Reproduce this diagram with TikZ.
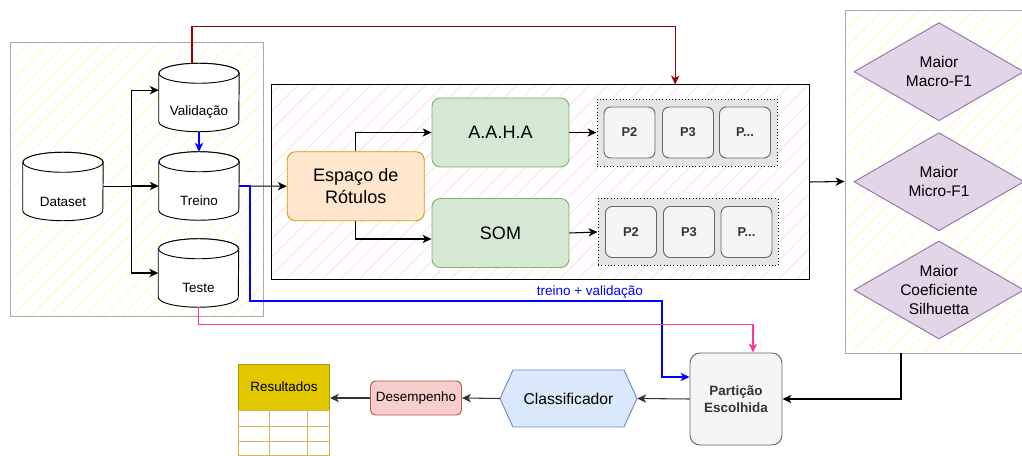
\documentclass[tikz,border=0pt]{standalone}
\usepackage{fontspec}
\setmainfont{Liberation Sans}
\usetikzlibrary{arrows.meta, positioning, shapes.geometric, calc, patterns.meta}

\definecolor{hatchyel}{RGB}{255,250,212}
\definecolor{hatchpink}{RGB}{255,230,237}
\definecolor{grpgray}{RGB}{170,170,170}
\definecolor{espfill}{HTML}{FFE6CC}
\definecolor{espline}{HTML}{D79B00}
\definecolor{algfill}{HTML}{D5E8D4}
\definecolor{algline}{HTML}{82B366}
\definecolor{pfill}{HTML}{F5F5F5}
\definecolor{pline}{HTML}{666666}
\definecolor{ptext}{HTML}{333333}
\definecolor{dmdfill}{HTML}{E1D5E7}
\definecolor{dmdline}{HTML}{9673A6}
\definecolor{clsfill}{HTML}{DAE8FC}
\definecolor{clsline}{HTML}{6C8EBF}
\definecolor{desfill}{HTML}{F8CECC}
\definecolor{desline}{HTML}{B85450}
\definecolor{resfill}{HTML}{E3C800}
\definecolor{resline}{HTML}{B09500}
\definecolor{tabline}{HTML}{D6B656}
\definecolor{valred}{HTML}{990000}
\definecolor{testpink}{HTML}{FF3399}
\definecolor{trblue}{HTML}{0000FF}

% cylinder: name, x, y, text
\newcommand{\dbnode}[4]{%
  \node[dbcyl] (#1) at (#2,#3) {};
  \draw[dbline] ([yshift=-0.3cm]#1.north west) -- ([yshift=0.3cm]#1.south west)
    arc[start angle=180, end angle=360, x radius=1.2cm, y radius=0.3cm]
    -- ([yshift=-0.3cm]#1.north east)
    arc[start angle=0, end angle=180, x radius=1.2cm, y radius=0.3cm] -- cycle;
  \draw[dbline] ([yshift=-0.3cm]#1.north) ellipse[x radius=1.2cm, y radius=0.3cm];
  \node (#1txt) at ([yshift=-0.45cm]#1.center) {#4};
}

\begin{document}
\begin{tikzpicture}[
    x=0.03cm, y=-0.03cm,
    font=\fontsize{11.5}{13.5}\selectfont,
    grpbox/.style={rectangle, draw=grpgray, line width=0.8pt,
      pattern={Lines[angle=45, distance=11pt, line width=1.1pt]}, pattern color=hatchyel},
    midbox/.style={rectangle, draw=black, line width=0.85pt,
      pattern={Lines[angle=45, distance=11pt, line width=1.1pt]}, pattern color=hatchpink},
    dbcyl/.style={rectangle, minimum width=2.4cm, minimum height=2.04cm, inner sep=0pt},
    dbline/.style={draw=black, fill=white, line width=0.8pt},
    box/.style={rectangle, rounded corners=0.25cm, line width=0.8pt, align=center,
      minimum width=4.11cm, minimum height=2.07cm, inner sep=2pt},
    espbox/.style={box, draw=espline, fill=espfill, font=\fontsize{15.4}{18.5}\selectfont},
    algbox/.style={box, draw=algline, fill=algfill, font=\fontsize{15.4}{18.5}\selectfont},
    pgroup/.style={rectangle, draw=black, dotted, line width=0.8pt, fill=gray!20,
      minimum width=5.4cm, minimum height=2.01cm},
    pbox/.style={rectangle, rounded corners=0.2cm, draw=pline, fill=pfill, text=ptext,
      line width=0.8pt, minimum size=1.53cm, font=\fontsize{11}{13}\selectfont\bfseries},
    dmd/.style={diamond, aspect=1.73, draw=dmdline, fill=dmdfill, line width=0.8pt,
      minimum width=5.1cm, minimum height=2.94cm, inner sep=0pt, align=center,
      font=\fontsize{13.2}{16.2}\selectfont},
    partbox/.style={rectangle, rounded corners=0.3cm, draw=pline, fill=pfill, text=ptext,
      line width=0.8pt, minimum size=2.76cm, align=center,
      font=\fontsize{11.5}{15}\selectfont\bfseries},
    clsbox/.style={rectangle, minimum width=4.11cm, minimum height=1.71cm,
      font=\fontsize{13.4}{16}\selectfont},
    desbox/.style={rectangle, rounded corners=0.15cm, draw=desline, fill=desfill,
      line width=0.8pt, minimum width=2.73cm, minimum height=1.02cm, inner sep=1pt},
    resbox/.style={rectangle, draw=resline, fill=resfill, line width=0.8pt,
      minimum width=2.73cm, minimum height=1.38cm},
    arr/.style={-{Stealth[length=2.7mm, width=2.5mm, inset=0.8mm]}, line width=0.9pt},
  ]
  \useasboundingbox (0,0) rectangle (1022,456);
  \clip (0,0) rectangle (1022,456);
  \fill[white] (0,0) rectangle (1022,456);

  % groups
  \node[grpbox, minimum width=7.59cm, minimum height=8.22cm] (grpL) at (136.5,179) {};
  \node[midbox, minimum width=16.11cm, minimum height=5.82cm] (grpM) at (540.5,182) {};
  \node[grpbox, minimum width=5.55cm, minimum height=10.29cm] (grpR) at (937.5,181.5) {};

  % data split
  \dbnode{ds}{63}{186.5}{Dataset}
  \dbnode{val}{199}{97.5}{Validação}
  \dbnode{tr}{199}{186}{Treino}
  \dbnode{te}{198.5}{273}{Teste}

  % label space and clustering
  \node[espbox] (esp)  at (355.75,186.25) {Espaço de\\Rótulos};
  \node[algbox] (aaha) at (500.5,132.5)   {A.A.H.A};
  \node[algbox] (som)  at (500.5,233)     {SOM};

  \node[pgroup] (ptop) at (687,132.5) {};
  \node[pbox]   (ptop2) at (629.5,132.5) {P2};
  \node[pbox]   (ptop3) at (688,132.5)   {P3};
  \node[pbox]   (ptopn) at (745,132.5)   {P...};

  \node[pgroup] (pbot) at (688,232) {};
  \node[pbox]   (pbot2) at (631,232)   {P2};
  \node[pbox]   (pbot3) at (689,232)   {P3};
  \node[pbox]   (pbotn) at (746.5,232) {P...};

  % criteria
  \node[dmd] (macro) at (939,71.7)  {Maior\\Macro-F1};
  \node[dmd] (micro) at (939,181.7) {Maior\\Micro-F1};
  \node[dmd] (silh)  at (939,290)   {Maior\\Coeficiente\\Silhuetta};

  % bottom row
  \node[partbox] (part) at (736,399) {Partição\\Escolhida};
  \draw[draw=clsline, fill=clsfill, line width=0.8pt]
    (500,398.5) -- (513,370) -- (624,370) -- (637,398.5) -- (624,427) -- (513,427) -- cycle;
  \node[clsbox] (cls) at (568.5,398.5) {Classificador};
  \node[desbox] (des) at (416,398) {Desempenho};
  \node[resbox] (res) at (284,387) {Resultados};
  \draw[draw=tabline, line width=0.8pt] (res.south west) rectangle (329.5,490);
  \draw[draw=tabline, line width=0.8pt] (238.5,426) -- (329.5,426)
    (238.5,441) -- (329.5,441) (238.5,455) -- (329.5,455)
    (269,410) -- (269,490) (307,410) -- (307,490);

  % connectors
  \draw[arr] (ds.east) -- ++(28,0) coordinate (fork) |- ([yshift=0.22cm]val.west);
  \draw[arr] (fork) |- (tr.west);
  \draw[arr] (fork) |- (te.west);
  \draw[arr, draw=trblue] (val.south) -- (tr.north);
  \draw[arr] (tr.east) -- (esp.west);
  \draw[arr, draw=trblue] (tr.east) -| (250,301)
    -- node[pos=0.825, above, inner sep=1.5pt, text=trblue] {treino + validação} (662,301)
    |- ([yshift=0.66cm]part.west);
  \draw[arr, draw=testpink] (te.south) -- ++(0,17) -| ([xshift=0.51cm]part.north);
  \draw[arr, draw=valred] ([xshift=-0.21cm]val.north) -- ++(0,-36.5)
    -| ([xshift=4.04cm]grpM.north);
  \draw[arr] (esp.north) |- (aaha.west);
  \draw[arr] (esp.south) |- ([yshift=-0.18cm]som.west);
  \draw[arr] (aaha.east) -- (ptop.west);
  \draw[arr] (som.east) -- (pbot.west);
  \draw[arr] (grpM.east) -- (grpR.west);
  \draw[arr] ([xshift=-1.095cm]grpR.south) |- (part.east);
  \draw[arr, draw=black!80] (part.west) -- (cls.east);
  \draw[arr, draw=black!80] (cls.west) -- (des.east);
  \draw[arr, draw=black!80] (des.west) -- (des.west -| res.east);
\end{tikzpicture}
\end{document}
